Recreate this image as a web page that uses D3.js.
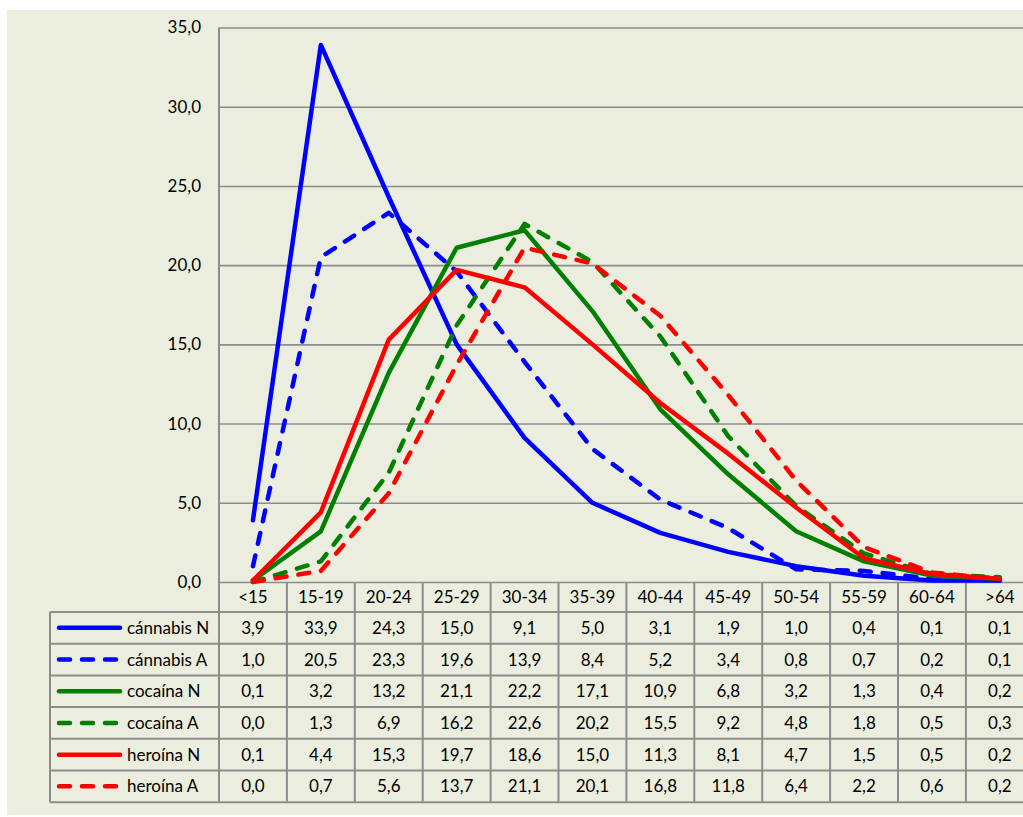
<!DOCTYPE html>
<html>
<head>
<meta charset="utf-8">
<script src="https://cdn.jsdelivr.net/npm/d3@7"></script>
<style>
  html, body { margin: 0; padding: 0; background: #ffffff; }
  svg { display: block; }
  text { font-family: Lato, "Open Sans", sans-serif; fill: #000; }
</style>
</head>
<body>
<svg id="chart" width="1023" height="817"></svg>
<script>
// Age groups
const categories = ["<15", "15-19", "20-24", "25-29", "30-34", "35-39", "40-44", "45-49", "50-54", "55-59", "60-64", ">64"];

// Percentages per age group
const cannabisN = [3.9, 33.9, 24.3, 15.0, 9.1, 5.0, 3.1, 1.9, 1.0, 0.4, 0.1, 0.1];
const cannabisA = [1.0, 20.5, 23.3, 19.6, 13.9, 8.4, 5.2, 3.4, 0.8, 0.7, 0.2, 0.1];
const cocainaN  = [0.1, 3.2, 13.2, 21.1, 22.2, 17.1, 10.9, 6.8, 3.2, 1.3, 0.4, 0.2];
const cocainaA  = [0.0, 1.3, 6.9, 16.2, 22.6, 20.2, 15.5, 9.2, 4.8, 1.8, 0.5, 0.3];
const heroinaN  = [0.1, 4.4, 15.3, 19.7, 18.6, 15.0, 11.3, 8.1, 4.7, 1.5, 0.5, 0.2];
const heroinaA  = [0.0, 0.7, 5.6, 13.7, 21.1, 20.1, 16.8, 11.8, 6.4, 2.2, 0.6, 0.2];

const seriesNames = ["cánnabis N", "cánnabis A", "cocaína N", "cocaína A", "heroína N", "heroína A"];
const seriesValues = [cannabisN, cannabisA, cocainaN, cocainaA, heroinaN, heroinaA];
const seriesColors = ["#0000ff", "#0000ff", "#008000", "#008000", "#ff0000", "#ff0000"];
const seriesDashed = [false, true, false, true, false, true];

const yTicks = [0, 5, 10, 15, 20, 25, 30, 35];

const series = seriesNames.map((name, i) => ({
  name, values: seriesValues[i], color: seriesColors[i], dashed: seriesDashed[i]
}));

const fmt = v => v.toFixed(1).replace(".", ",");

const W = 1023, H = 817;
const plot = { left: 219, top: 27.5, bottom: 582, band: 67.9 };
const table = { left: 50, headerH: 30, rowH: 31.7 };
const gridColor = "#8c8c8c";
const dashPattern = "11,12";
const fontSize = 17;

const svg = d3.select("#chart");

// Panel background
svg.append("rect")
  .attr("x", 7).attr("y", 10)
  .attr("width", W - 7).attr("height", 805)
  .attr("fill", "#ebeedf");

const x = d3.scaleBand()
  .domain(categories)
  .range([plot.left, plot.left + plot.band * categories.length]);

const y = d3.scaleLinear()
  .domain([0, 35])
  .range([plot.bottom, plot.top]);

svg.append("clipPath").attr("id", "clipArea")
  .append("rect").attr("x", 0).attr("y", 0).attr("width", W).attr("height", H);

const g = svg.append("g").attr("clip-path", "url(#clipArea)");

// Horizontal gridlines and value labels
const yAxis = d3.axisLeft(y)
  .tickValues(yTicks)
  .tickSize(-(x.range()[1] - plot.left))
  .tickPadding(18)
  .tickFormat(fmt);

const yg = g.append("g")
  .attr("transform", `translate(${plot.left},0)`)
  .call(yAxis);
yg.select(".domain").remove();
yg.selectAll(".tick line")
  .attr("stroke", gridColor).attr("stroke-width", 1.6);
yg.selectAll(".tick text")
  .attr("font-size", fontSize)
  .attr("dy", "0.32em")
  .style("font-family", "Lato, 'Open Sans', sans-serif")
  .attr("fill", "#000");

// Vertical axis line
g.append("line")
  .attr("x1", plot.left).attr("x2", plot.left)
  .attr("y1", plot.top).attr("y2", plot.bottom)
  .attr("stroke", gridColor).attr("stroke-width", 2);

// Data table below the plot
const tableTop = plot.bottom;
const rowsTop = tableTop + table.headerH;
const tableBottom = rowsTop + table.rowH * series.length;
const tg = g.append("g");

// vertical separators between age groups
const bounds = categories.map(c => x(c)).concat([x.range()[1]]);
tg.selectAll("line.vsep")
  .data(bounds)
  .join("line")
  .attr("class", "vsep")
  .attr("x1", d => d).attr("x2", d => d)
  .attr("y1", tableTop).attr("y2", tableBottom)
  .attr("stroke", gridColor).attr("stroke-width", 2);

// horizontal row lines
const rowLines = d3.range(series.length + 1).map(i => rowsTop + i * table.rowH);
tg.selectAll("line.hsep")
  .data(rowLines)
  .join("line")
  .attr("class", "hsep")
  .attr("x1", table.left).attr("x2", x.range()[1])
  .attr("y1", d => d).attr("y2", d => d)
  .attr("stroke", gridColor).attr("stroke-width", 2);

// left border of legend column
tg.append("line")
  .attr("x1", table.left).attr("x2", table.left)
  .attr("y1", rowsTop).attr("y2", tableBottom)
  .attr("stroke", gridColor).attr("stroke-width", 2);

// category header
tg.selectAll("text.cat")
  .data(categories)
  .join("text")
  .attr("class", "cat")
  .attr("x", d => x(d) + x.bandwidth() / 2)
  .attr("y", tableTop + table.headerH / 2)
  .attr("dy", "0.35em")
  .attr("text-anchor", "middle")
  .attr("font-size", fontSize)
  .text(d => d);

// rows: legend key, name and values
series.forEach((s, i) => {
  const cy = rowsTop + i * table.rowH + table.rowH / 2;
  tg.append("line")
    .attr("x1", 59).attr("x2", 120)
    .attr("y1", cy).attr("y2", cy)
    .attr("stroke", s.color).attr("stroke-width", 4.5)
    .attr("stroke-linecap", "round")
    .attr("stroke-dasharray", s.dashed ? dashPattern : null);
  tg.append("text")
    .attr("x", 127).attr("y", cy).attr("dy", "0.35em")
    .attr("font-size", fontSize)
    .text(s.name);
  tg.selectAll(null)
    .data(s.values)
    .join("text")
    .attr("x", (d, j) => x(categories[j]) + x.bandwidth() / 2)
    .attr("y", cy).attr("dy", "0.35em")
    .attr("text-anchor", "middle")
    .attr("font-size", fontSize)
    .text(d => fmt(d));
});

// series lines
const line = d3.line()
  .x((d, j) => x(categories[j]) + x.bandwidth() / 2)
  .y(d => y(d));

g.selectAll("path.series")
  .data(series)
  .join("path")
  .attr("class", "series")
  .attr("fill", "none")
  .attr("stroke", d => d.color)
  .attr("stroke-width", 4.5)
  .attr("stroke-linejoin", "round")
  .attr("stroke-linecap", "round")
  .attr("stroke-dasharray", d => d.dashed ? dashPattern : null)
  .attr("d", d => line(d.values));
</script>
</body>
</html>
